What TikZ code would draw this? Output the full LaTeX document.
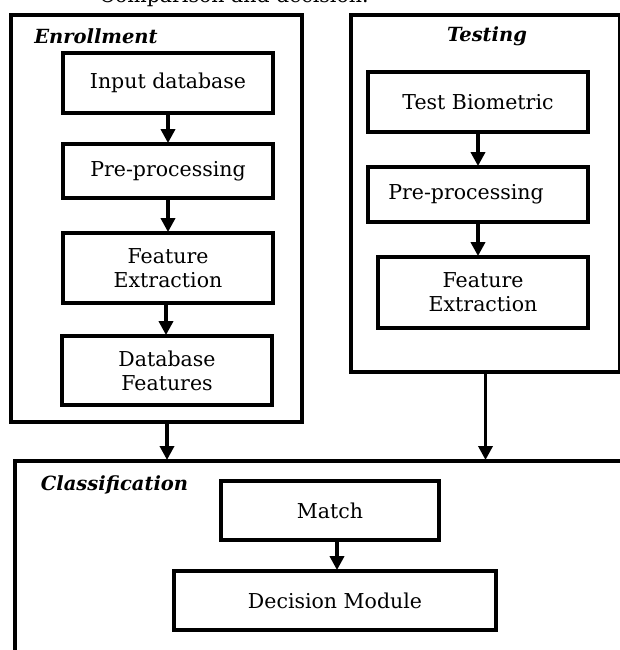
\documentclass[tikz,border=0pt]{standalone}
\usepackage{fontspec}
\setmainfont{DejaVu Serif}
\usetikzlibrary{arrows.meta,calc}
\begin{document}
\begin{tikzpicture}[x=1pt,y=-1pt,
  stage/.style={draw, line width=3.8pt, inner sep=0pt, align=center,
    font=\fontsize{20.5}{24}\selectfont},
  group/.style={draw, line width=3.8pt, inner sep=0pt},
  title/.style={font=\fontsize{19.5}{22}\selectfont\bfseries\itshape, inner sep=0pt},
  flow/.style={line width=3.8pt, -{Triangle[length=14pt,width=14pt]}, shorten >=-1pt}]
\useasboundingbox (0,0) rectangle (619,650);

% caption line running off the top edge
\node[anchor=base, inner sep=0pt, font=\fontsize{20.5}{24}\selectfont] (cap) at (234,3) {Comparison and decision.};

% outer group frames
\node[group, minimum width=291pt, minimum height=407pt] (enr) at (156.5,218.5) {};
\node[group, minimum width=269pt, minimum height=357pt] (tst) at (485.5,193.5) {};
\node[group, minimum width=640pt, minimum height=240pt, anchor=north west] (cls) at (13,459) {};

% group titles
\node[title] (tenr) at (96,36) {Enrollment};
\node[title] (ttst) at (487,36.5) {Testing};
\node[title] (tcls) at (114.5,485) {Classification};

% enrollment stages
\node[stage, minimum width=210pt, minimum height=60pt] (e1) at (168,83) {Input database};
\node[stage, minimum width=210pt, minimum height=54pt] (e2) at (168,171) {Pre-processing};
\node[stage, minimum width=210pt, minimum height=70pt] (e3) at (168,268) {Feature\\Extraction};
\node[stage, minimum width=210pt, minimum height=69pt] (e4) at (167,370.5) {Database\\Features};

% testing stages
\node[stage, minimum width=220pt, minimum height=60pt] (t1) at (478,102) {Test Biometric};
\node[stage, minimum width=220pt, minimum height=55pt] (t2) at (478,194.5) {Pre-processing\hspace*{24pt}};
\node[stage, minimum width=210pt, minimum height=71pt] (t3) at (483,292.5) {Feature\\Extraction};

% classification stages
\node[stage, minimum width=218pt, minimum height=59pt] (c1) at (330,510.5) {Match};
\node[stage, minimum width=322pt, minimum height=59pt] (c2) at (335,600.5) {Decision Module};

% connectors
\draw[flow] (e1.south) -- (e2.north);
\draw[flow] (e2.south) -- (e3.north);
\draw[flow] ($(e3.south)+(-2,0)$) -- ($(e4.north)+(-1,0)$);
\draw[flow] (t1.south) -- (t2.north);
\draw[flow] (t2.south) -- (t3.north -| t2.south);
\draw[flow] ($(c1.south)+(7,0)$) -- ($(c2.north)+(2,0)$);
\draw[flow] (e4 |- enr.south) -- (e4 |- cls.north);
\draw[flow] (tst.south) -- (tst.south |- cls.north);
\end{tikzpicture}
\end{document}
